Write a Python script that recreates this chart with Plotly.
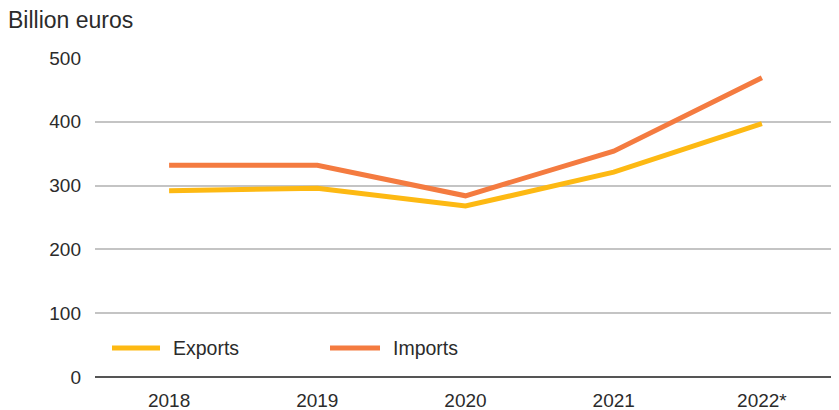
import plotly.graph_objects as go

years = ["2018", "2019", "2020", "2021", "2022*"]
exports = [292, 296, 268, 321, 397]
imports = [332, 332, 284, 354, 469]
y_ticks = [0, 100, 200, 300, 400, 500]

FONT = "Liberation Sans"
TXT = "#2b2b2b"
C_EXP = "#FDB913"
C_IMP = "#F47B40"

fig = go.Figure()
fig.add_trace(go.Scatter(x=years, y=exports, name="Exports", mode="lines",
                         line=dict(color=C_EXP, width=5)))
fig.add_trace(go.Scatter(x=years, y=imports, name="Imports", mode="lines",
                         line=dict(color=C_IMP, width=5)))

L, T, W, H = 87, 50, 831, 402
R, B = 3, 33
PW = W - L - R
PH = H - T - B
OFF = 8  # page offset of the figure


def fx(px):
    return (px - OFF - L) / PW


def fy(py):
    return (H - B - (py - OFF)) / PH


shapes = []
annos = [dict(text="Billion euros", xref="paper", yref="paper",
              x=fx(8), y=fy(20), xshift=-2, xanchor="left", yanchor="middle",
              showarrow=False, font=dict(size=23, color=TXT))]
for name, col, x0, x1, tx in [("Exports", C_EXP, 112, 160, 171),
                              ("Imports", C_IMP, 330, 380, 391)]:
    shapes.append(dict(type="line", xref="paper", yref="paper",
                       x0=fx(x0), x1=fx(x1), y0=fy(348), y1=fy(348),
                       line=dict(color=col, width=5)))
    annos.append(dict(text=name, xref="paper", yref="paper", x=fx(tx), y=fy(348),
                      xanchor="left", yanchor="middle", showarrow=False,
                      font=dict(size=19.5, color=TXT)))

fig.update_layout(
    width=W, height=H,
    margin=dict(l=L, r=R, t=T, b=B),
    paper_bgcolor="white", plot_bgcolor="white",
    font=dict(family=FONT, size=19, color=TXT),
    showlegend=False,
    xaxis=dict(type="category", range=[-0.5, 4.5], showgrid=False, zeroline=False,
               showline=False, ticks="", ticklabelstandoff=10, automargin=False,
               tickfont=dict(size=19, color=TXT)),
    yaxis=dict(range=[0, 500], tickvals=y_ticks, showgrid=True, gridcolor="#c4c4c4",
               gridwidth=1.5, zeroline=True, zerolinecolor="#555555", zerolinewidth=1.5,
               showline=False, ticks="", ticklabelstandoff=13, automargin=False,
               tickfont=dict(size=19, color=TXT)),
    shapes=shapes,
    annotations=annos,
)

fig.write_html("out.html")
